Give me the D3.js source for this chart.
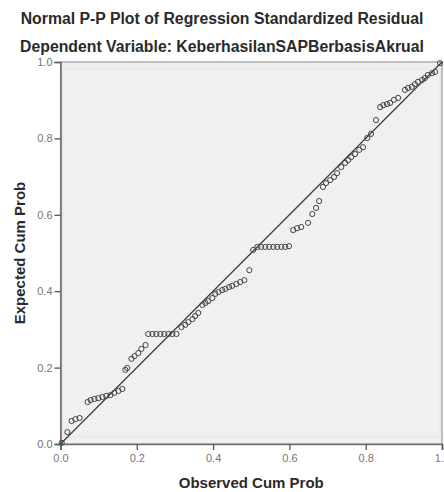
<!DOCTYPE html>
<html>
<head>
<meta charset="utf-8">
<script src="https://cdn.jsdelivr.net/npm/d3@7"></script>
<style>
  html, body { margin: 0; padding: 0; background: #ffffff; }
  svg { display: block; font-family: Arial, "Liberation Sans", sans-serif; }
</style>
</head>
<body>
<svg id="chart" width="444" height="492"></svg>
<script>
const titleLines = ["Normal P-P Plot of Regression Standardized Residual",
                    "Dependent Variable: KeberhasilanSAPBerbasisAkrual"];
const xTitle = "Observed Cum Prob";
const yTitle = "Expected Cum Prob";
const tickValues = [0, 0.2, 0.4, 0.6, 0.8, 1.0];
const tickLabels = ["0.0", "0.2", "0.4", "0.6", "0.8", "1.0"];

const observed = [0.003,0.018,0.029,0.039,0.050,0.071,0.079,0.089,0.099,0.110,
  0.120,0.131,0.141,0.152,0.162,0.170,0.175,0.186,0.194,0.204,
  0.212,0.223,0.230,0.241,0.251,0.262,0.272,0.283,0.293,0.304,
  0.317,0.327,0.335,0.346,0.353,0.361,0.372,0.380,0.387,0.398,
  0.406,0.414,0.424,0.432,0.442,0.450,0.461,0.471,0.482,0.495,
  0.505,0.516,0.526,0.537,0.547,0.558,0.568,0.579,0.589,0.599,
  0.610,0.620,0.631,0.649,0.660,0.670,0.678,0.688,0.696,0.707,
  0.717,0.725,0.736,0.746,0.754,0.762,0.772,0.783,0.793,0.804,
  0.814,0.827,0.838,0.846,0.856,0.864,0.874,0.885,0.903,0.911,
  0.921,0.929,0.937,0.948,0.955,0.963,0.974,0.982,0.995];
const expected = [0.003,0.031,0.060,0.065,0.068,0.110,0.115,0.118,0.120,0.123,
  0.126,0.128,0.134,0.139,0.144,0.194,0.199,0.223,0.230,0.238,
  0.249,0.259,0.288,0.288,0.288,0.288,0.288,0.288,0.288,0.288,
  0.306,0.312,0.319,0.327,0.335,0.343,0.364,0.369,0.374,0.382,
  0.393,0.398,0.403,0.406,0.411,0.414,0.419,0.424,0.429,0.455,
  0.508,0.516,0.516,0.516,0.516,0.516,0.516,0.516,0.516,0.518,
  0.560,0.565,0.568,0.579,0.602,0.618,0.636,0.673,0.683,0.691,
  0.699,0.709,0.725,0.736,0.743,0.751,0.759,0.770,0.777,0.801,
  0.812,0.848,0.882,0.887,0.890,0.893,0.901,0.906,0.927,0.932,
  0.935,0.942,0.948,0.953,0.958,0.966,0.971,0.974,0.997];

(function () {
const svg = d3.select("#chart");
const pl = 60.5, pr = 442, pt = 62, pb = 444;
const x = d3.scaleLinear().domain([0, 1]).range([pl, pr]);
const y = d3.scaleLinear().domain([0, 1]).range([pb, pt]);

// Plot background and frame
svg.append("rect").attr("x", pl).attr("y", pt)
  .attr("width", pr - pl).attr("height", pb - pt)
  .attr("fill", "#f0f0f0").attr("stroke", "#9a9a9a").attr("stroke-width", 1.2);
svg.append("rect").attr("x", pl + 2).attr("y", pt + 7)
  .attr("width", pr - pl - 4).attr("height", pb - pt - 14)
  .attr("fill", "none").attr("stroke", "#e6e6e6").attr("stroke-width", 1);

// Titles
svg.selectAll("text.title").data(titleLines).enter().append("text")
  .attr("class", "title")
  .attr("x", 222).attr("y", (d, i) => i === 0 ? 24 : 52)
  .attr("text-anchor", "middle")
  .attr("font-size", 15.8).attr("font-weight", "bold").attr("fill", "#2a2a2a")
  .text(d => d);

// Axes
const fmt = d => tickLabels[tickValues.indexOf(d)];
const yAxis = svg.append("g").attr("transform", `translate(${pl},0)`)
  .call(d3.axisLeft(y).tickValues(tickValues).tickFormat(fmt).tickSize(6).tickPadding(2));
const xAxis = svg.append("g").attr("transform", `translate(0,${pb})`)
  .call(d3.axisBottom(x).tickValues(tickValues).tickFormat(fmt).tickSize(6).tickPadding(4));
[xAxis, yAxis].forEach(g => {
  g.select(".domain").attr("stroke", "#707070").attr("stroke-width", 1.6);
  g.selectAll(".tick line").attr("stroke", "#555").attr("stroke-width", 1.3);
  g.selectAll(".tick text").attr("fill", "#757575").attr("font-size", 11)
    .attr("font-family", "Arial, 'Liberation Sans', sans-serif");
});

// Axis titles
svg.append("text").attr("x", (pl + pr) / 2).attr("y", 488)
  .attr("text-anchor", "middle").attr("font-size", 15).attr("font-weight", "bold")
  .attr("fill", "#2a2a2a").text(xTitle);
svg.append("text")
  .attr("transform", `translate(25,${(pt + pb) / 2}) rotate(-90)`)
  .attr("text-anchor", "middle").attr("font-size", 15).attr("font-weight", "bold")
  .attr("fill", "#2a2a2a").text(yTitle);

// Reference line
svg.append("line")
  .attr("x1", x(0)).attr("y1", y(0)).attr("x2", x(1)).attr("y2", y(1))
  .attr("stroke", "#3a3a3a").attr("stroke-width", 1.2);

// Points
const pts = observed.map((o, i) => ({ o, e: expected[i] }));
svg.append("g").selectAll("circle").data(pts).enter().append("circle")
  .attr("cx", d => x(d.o)).attr("cy", d => y(d.e)).attr("r", 2.6)
  .attr("fill", "none").attr("stroke", "#444").attr("stroke-width", 1);
})();
</script>
</body>
</html>
